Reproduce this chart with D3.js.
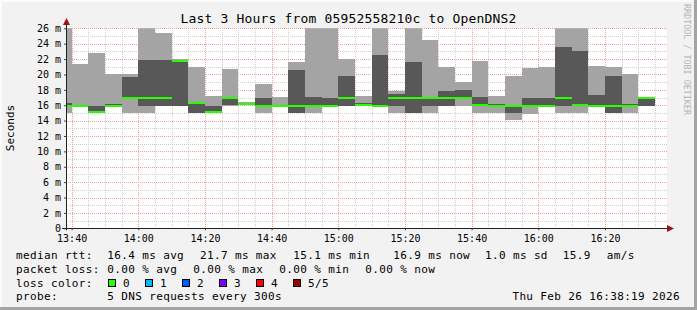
<!DOCTYPE html>
<html><head><meta charset="utf-8">
<script src="https://cdn.jsdelivr.net/npm/d3@7"></script>
<style>
body{margin:0;background:#f2f2f2}
svg{display:block}
text{font-family:"DejaVu Sans Mono",monospace}
</style>
</head><body><svg id="c" width="697" height="310"></svg>
<script>
// ---- data (5-minute steps, 5 pings each, sorted) ----
const stepStart = ["13:35","13:40","13:45","13:50","13:55","14:00","14:05","14:10","14:15","14:20","14:25","14:30",
  "14:35","14:40","14:45","14:50","14:55","15:00","15:05","15:10","15:15","15:20","15:25","15:30",
  "15:35","15:40","15:45","15:50","15:55","16:00","16:05","16:10","16:15","16:20","16:25","16:30"];
const pingMin = [15.0,15.8,15.0,15.8,15.0,15.0,15.9,15.9,15.0,14.95,15.95,16.0,
  15.0,15.85,15.0,15.0,15.85,15.9,15.95,15.85,15.0,15.0,15.0,15.9,
  15.9,15.0,15.0,14.1,14.9,15.85,15.0,15.0,15.85,15.0,15.0,15.85];
const ping2 = [15.85,15.85,15.05,15.85,16.95,15.9,15.95,15.95,15.05,15.0,16.0,16.05,
  15.9,15.9,15.0,15.9,15.9,15.95,16.0,15.9,15.95,15.0,15.95,15.95,
  16.9,15.95,15.9,15.0,15.9,15.9,15.95,15.95,15.9,15.0,15.9,15.9];
const median = [15.95,15.9,15.1,15.95,17.0,17.0,17.0,21.7,16.3,15.1,16.9,16.1,
  15.95,15.95,15.95,15.95,15.95,16.95,16.05,15.95,16.95,16.95,16.95,16.95,
  16.95,16.0,15.95,15.9,15.95,15.95,16.95,16.0,15.95,15.95,15.95,16.9];
const ping4 = [16.3,16.0,15.9,16.1,19.7,21.9,21.9,21.9,16.4,15.9,17.0,16.2,
  16.9,16.0,20.6,17.1,16.9,19.8,16.3,22.55,17.5,21.65,17.1,17.85,
  18.0,17.1,16.1,15.95,16.9,16.9,23.6,23.05,17.35,19.8,16.1,16.95];
const pingMax = [27,21.4,22.8,20.1,20.0,27,25.4,21.95,21.0,17.2,20.7,16.4,
  18.8,17.1,21.65,28,27,22.0,17.2,27,17.8,27,24.5,21.0,
  19.05,21.8,17.2,19.8,20.8,21.0,27,27,21.1,21.0,20.05,17.0];

const yTickValues = [0,2,4,6,8,10,12,14,16,18,20,22,24,26];
const yTickLabels = ["0","2 m","4 m","6 m","8 m","10 m","12 m","14 m","16 m","18 m","20 m","22 m","24 m","26 m"];
const xTickLabels = ["13:40","14:00","14:20","14:40","15:00","15:20","15:40","16:00","16:20"];

const titleText = "Last 3 Hours from 05952558210c to OpenDNS2";
const rttLabel = "median rtt:";
const rttStats = ["16.4 ms avg","21.7 ms max","15.1 ms min","16.9 ms now","1.0 ms sd","15.9","am/s"];
const lossLabel = "packet loss:";
const lossStats = ["0.00 % avg","0.00 % max","0.00 % min","0.00 % now"];
const lossColorLabel = "loss color:";
const lossColorNames = ["0","1","2","3","4","5/5"];
const lossColorValues = ["#26ff00","#00b8ff","#0059ff","#7e00ff","#ff0000","#a10000"];
const probeLabel = "probe:";
const probeText = "5 DNS requests every 300s";
const dateText = "Thu Feb 26 16:38:19 2026";
const watermark = "RRDTOOL / TOBI OETIKER";

// ---- drawing ----
const W = 697, H = 310;
const svg = d3.select("#c");
const toMin = s => { const [h, m] = s.split(":").map(Number); return h * 60 + m; };
const tEnd = 16 * 60 + 38 + 19 / 60, tStart = tEnd - 180;
const X0 = 66, X1 = 666, Y0 = 228.3, Y1 = 28.3;
const x = d3.scaleLinear().domain([tStart, tEnd]).range([X0, X1]);
const y = d3.scaleLinear().domain([0, 26]).range([Y0, Y1]);

svg.append("rect").attr("width", W).attr("height", H).attr("fill", "#f2f2f2");
svg.append("rect").attr("x", 0).attr("y", 0).attr("width", W).attr("height", 2).attr("fill", "#fbfbfb");
svg.append("rect").attr("x", 0).attr("y", 0).attr("width", 2).attr("height", H).attr("fill", "#fbfbfb");
svg.append("rect").attr("x", 0).attr("y", H - 3).attr("width", W).attr("height", 3).attr("fill", "#a4a4a4");
svg.append("rect").attr("x", W - 3).attr("y", 0).attr("width", 3).attr("height", H).attr("fill", "#a4a4a4");

// canvas
svg.append("rect").attr("x", X0).attr("y", Y1).attr("width", X1 - X0 + 1).attr("height", Y0 - Y1).attr("fill", "#ffffff");

// grid
const grid = svg.append("g").attr("shape-rendering", "crispEdges");
const minorH = d3.range(1, 27).filter(v => v % 2 === 1);
const majorH = d3.range(2, 27, 2);
const gridT = d3.range(toMin("13:40"), tEnd, 5);
const minorV = gridT.filter(t => t % 20 !== 0);
const majorV = gridT.filter(t => t % 20 === 0);
grid.selectAll(".mh").data(minorH).join("line")
  .attr("x1", X0).attr("x2", X1 + 1).attr("y1", d => Math.round(y(d)) + 0.5).attr("y2", d => Math.round(y(d)) + 0.5)
  .attr("stroke", "#cfcfcf").attr("stroke-dasharray", "1,1");
grid.selectAll(".mv").data(minorV).join("line")
  .attr("y1", Y1).attr("y2", Y0).attr("x1", d => Math.round(x(d)) + 0.5).attr("x2", d => Math.round(x(d)) + 0.5)
  .attr("stroke", "#cfcfcf").attr("stroke-dasharray", "1,1");
grid.selectAll(".Mh").data(majorH).join("line")
  .attr("x1", X0).attr("x2", X1 + 1).attr("y1", d => Math.round(y(d)) + 0.5).attr("y2", d => Math.round(y(d)) + 0.5)
  .attr("stroke", "#f3a0a0").attr("stroke-dasharray", "1,1");
grid.selectAll(".Mv").data(majorV).join("line")
  .attr("y1", Y1).attr("y2", Y0).attr("x1", d => Math.round(x(d)) + 0.5).attr("x2", d => Math.round(x(d)) + 0.5)
  .attr("stroke", "#f3a0a0").attr("stroke-dasharray", "1,1");

// smoke
svg.append("clipPath").attr("id", "plot").append("rect")
  .attr("x", X0).attr("y", Y1).attr("width", X1 - X0 + 1).attr("height", Y0 - Y1);
const data = stepStart.map((s, i) => ({ t0: toMin(s), lo: pingMin[i], p2: ping2[i], med: median[i], p4: ping4[i], hi: pingMax[i] }));
const smoke = svg.append("g").attr("clip-path", "url(#plot)").attr("shape-rendering", "crispEdges");
const bx = d => Math.round(x(Math.max(d.t0, tStart)));
const bw = d => Math.round(x(d.t0 + 5)) - bx(d);
smoke.selectAll(".light").data(data).join("rect")
  .attr("x", bx).attr("width", bw)
  .attr("y", d => Math.round(y(d.hi))).attr("height", d => Math.round(y(d.lo)) - Math.round(y(d.hi)))
  .attr("fill", "#a4a4a4");
smoke.selectAll(".dark").data(data).join("rect")
  .attr("x", bx).attr("width", bw)
  .attr("y", d => Math.round(y(d.p4))).attr("height", d => Math.max(0, Math.round(y(d.p2)) - Math.round(y(d.p4))))
  .attr("fill", "#585858");
smoke.selectAll(".med").data(data).join("rect")
  .attr("x", bx).attr("width", bw)
  .attr("y", d => Math.round(y(d.med)) - 1).attr("height", 2)
  .attr("fill", "#26ff00");

// axes
const yAxis = d3.axisLeft(y).tickValues(yTickValues).tickFormat((d, i) => yTickLabels[i]).tickSize(2).tickPadding(3);
const ga = svg.append("g").attr("transform", `translate(${X0},0)`).call(yAxis);
ga.select(".domain").remove();
ga.selectAll("text").attr("font-size", "10px").attr("fill", "#000").attr("font-family", "DejaVu Sans Mono");
ga.selectAll("line").attr("stroke", "#444");

const xAxis = d3.axisBottom(x).tickValues(xTickLabels.map(toMin)).tickFormat((d, i) => xTickLabels[i]).tickSize(2).tickPadding(4.5);
const gx = svg.append("g").attr("transform", `translate(0,${Y0})`).call(xAxis);
gx.select(".domain").remove();
gx.selectAll("text").attr("font-size", "10px").attr("fill", "#000").attr("font-family", "DejaVu Sans Mono");
gx.selectAll("line").attr("stroke", "#444");

svg.append("line").attr("x1", X0 + 0.5).attr("x2", X0 + 0.5).attr("y1", Y0 + 2).attr("y2", 22).attr("stroke", "#222");
svg.append("line").attr("x1", 62).attr("x2", 669).attr("y1", Math.round(Y0) + 0.5).attr("y2", Math.round(Y0) + 0.5).attr("stroke", "#222");
svg.append("path").attr("d", `M${X0 + 0.5},18 L${X0 - 3},25 L${X0 + 4},25 Z`).attr("fill", "#9a1414");
svg.append("path").attr("d", `M674,${Math.round(Y0) + 0.5} L667,${Math.round(Y0) - 3} L667,${Math.round(Y0) + 4} Z`).attr("fill", "#9a1414");

// title, labels
svg.append("text").attr("x", W / 2).attr("y", 23).attr("text-anchor", "middle").attr("font-size", "13px")
  .attr("letter-spacing", "0.17px").attr("fill", "#000").text(titleText);
svg.append("text").attr("transform", "translate(14,128) rotate(-90)").attr("text-anchor", "middle").attr("font-size", "11px").attr("fill", "#000").text("Seconds");
svg.append("text").attr("transform", "translate(683.5,4) rotate(90)").attr("font-size", "8.4px").attr("fill", "#b4b4b4").text(watermark);

// legend
const L = svg.append("g").attr("font-size", "11px").attr("letter-spacing", "0.36px").attr("fill", "#000");
const row = [258.5, 272.5, 286.5, 300];
L.append("text").attr("x", 16).attr("y", row[0]).text(rttLabel);
[107.3, 200, 293.3, 393.3, 485, 562.7, 606.7].forEach((px, i) => L.append("text").attr("x", px).attr("y", row[0]).text(rttStats[i]));
L.append("text").attr("x", 16).attr("y", row[1]).text(lossLabel);
[107.3, 193.3, 279.3, 365.3].forEach((px, i) => L.append("text").attr("x", px).attr("y", row[1]).text(lossStats[i]));
L.append("text").attr("x", 16).attr("y", row[2]).text(lossColorLabel);
const boxX = [108.5, 145.5, 182.5, 219.5, 256.5, 293.5];
lossColorNames.forEach((n, i) => {
  L.append("rect").attr("x", boxX[i]).attr("y", 279.5).attr("width", 7).attr("height", 7)
    .attr("fill", lossColorValues[i]).attr("stroke", "#000").attr("stroke-width", 1);
  L.append("text").attr("x", boxX[i] + 14.5).attr("y", row[2]).text(n);
});
L.append("text").attr("x", 16).attr("y", row[3]).text(probeLabel);
L.append("text").attr("x", 107.3).attr("y", row[3]).text(probeText);
L.append("text").attr("x", 680).attr("y", row[3]).attr("text-anchor", "end").text(dateText);
</script>
</body></html>
